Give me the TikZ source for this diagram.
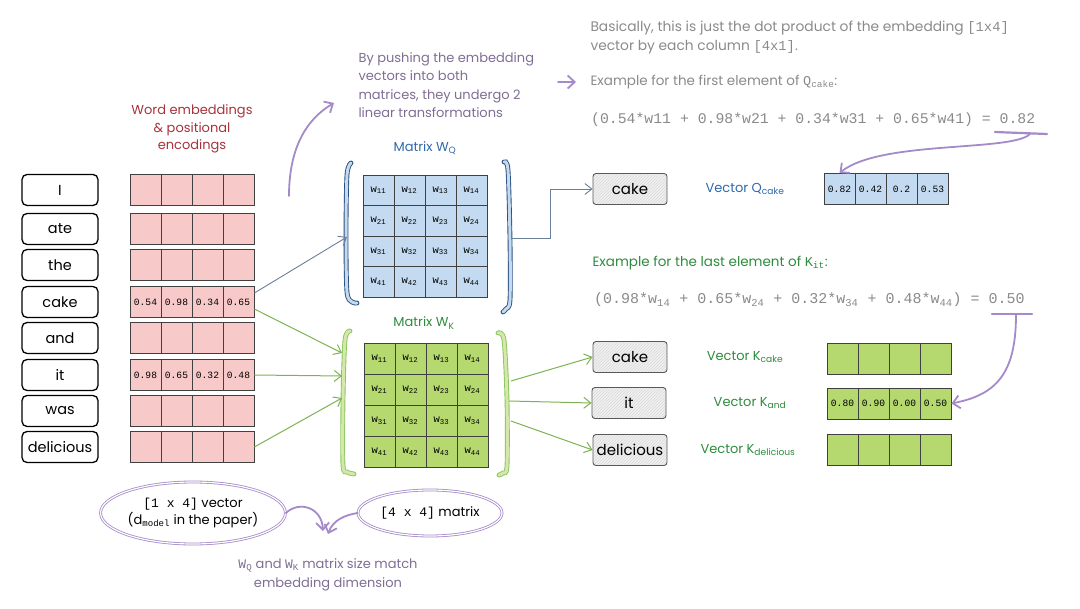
\documentclass[tikz,border=0pt]{standalone}
\usepackage{fontspec}
\setmainfont{Poppins}
\setmonofont{Liberation Mono}
\usetikzlibrary{arrows.meta,patterns,calc,shapes.geometric}
\definecolor{pinkF}{HTML}{F8C9C9}
\definecolor{blueF}{HTML}{C3DAF0}
\definecolor{greenF}{HTML}{B5D86F}
\definecolor{redT}{HTML}{A8323A}
\definecolor{blueT}{HTML}{2F68AA}
\definecolor{greenT}{HTML}{2E8B3E}
\definecolor{grayT}{HTML}{8A8A8A}
\definecolor{purpT}{HTML}{7F6D95}
\definecolor{purpA}{HTML}{A58AC9}
\definecolor{blueL}{HTML}{6B7F99}
\definecolor{greenL}{HTML}{7DB352}
\definecolor{blueBr}{HTML}{2B4F7E}
\definecolor{greenBr}{HTML}{8CC460}
\newcommand\handf{\fontsize{13}{16}\selectfont}
\newcommand\vrow[5]{\foreach \v [count=\k] in {#5}{\node[#4] (#1-\k) at ({#2+15.5+31*(\k-1)},#3) {\v};}}
\newcommand\wl[2]{\texttt{\fontsize{10.5}{12}\selectfont w\textsubscript{#1#2}}}
\begin{document}
\begin{tikzpicture}[x=1pt,y=-1pt,
  every node/.style={font=\handf},
  wordbox/.style={draw=black, line width=1.3pt, rounded corners=5pt, fill=white, minimum width=76pt, minimum height=31pt, inner sep=0pt, font=\fontsize{14.5}{18}\selectfont},
  outbox/.style={draw=black!65, line width=0.9pt, rounded corners=3pt, preaction={fill=black!6}, pattern=north east lines, pattern color=black!15, minimum width=74pt, minimum height=31pt, inner sep=0pt, font=\fontsize{15}{18}\selectfont},
  cellbase/.style={draw=black!75, line width=0.8pt, minimum width=31pt, minimum height=31pt, inner sep=0pt, font=\ttfamily\fontsize{9.6}{11}\selectfont},
  pinkcell/.style={cellbase, fill=pinkF},
  bluecell/.style={cellbase, fill=blueF},
  greencell/.style={cellbase, fill=greenF},
  blueBracket/.style={draw=blueBr, double=blueF, double distance=3pt, line width=0.9pt, line cap=round},
  greenBracket/.style={draw=greenBr, double=greenF!60, double distance=3pt, line width=0.9pt, line cap=round},
  bconn/.style={draw=blueL, line width=0.9pt, -{Straight Barb[length=7pt,width=11pt]}},
  gconn/.style={draw=greenL, line width=1pt, -{Straight Barb[length=7pt,width=11pt]}},
  pa/.style={draw=purpA, line width=1.8pt, line cap=round, -{Straight Barb[length=7pt,width=13pt]}},
  pline/.style={draw=purpA, line width=2.2pt, line cap=round},
  oval/.style={ellipse, draw=purpA, double=white, double distance=1.2pt, line width=0.8pt, inner sep=0pt}
]
\useasboundingbox (0,0) rectangle (1080,609);

% ---------- words ----------
\foreach \w/\y [count=\i] in {I/190, ate/229, the/265, cake/302, and/338, it/375, was/411, delicious/447}
  \node[wordbox] (w\i) at (60,\y) {\w};

% ---------- embeddings ----------
\node[text=redT, align=center, font=\fontsize{13}{17.5}\selectfont] (embT) at (192,129) {Word embeddings\\\& positional\\encodings};
\vrow{e1}{130}{190}{pinkcell}{{},{},{},{}}
\vrow{e2}{130}{229}{pinkcell}{{},{},{},{}}
\vrow{e3}{130}{265}{pinkcell}{{},{},{},{}}
\vrow{e4}{130}{302}{pinkcell}{0.54,0.98,0.34,0.65}
\vrow{e5}{130}{338}{pinkcell}{{},{},{},{}}
\vrow{e6}{130}{375}{pinkcell}{0.98,0.65,0.32,0.48}
\vrow{e7}{130}{411}{pinkcell}{{},{},{},{}}
\vrow{e8}{130}{447}{pinkcell}{{},{},{},{}}

% ---------- matrix WQ ----------
\node[text=blueT] (mqT) at (425,148) {Matrix W\textsubscript{Q}};
\foreach \r in {1,...,4}
  \foreach \c in {1,...,4}
    \node[bluecell, minimum height=30.5pt] (q\r\c) at ({363+15.5+31*(\c-1)},{175+15.25+30.5*(\r-1)}) {\wl{\r}{\c}};
\draw[blueBracket] plot[smooth] coordinates {(351,163) (347,175) (346,237) (347,292) (352,302) (357,303)};
\draw[blueBracket] plot[smooth] coordinates {(504,162) (508,170) (510,240) (510,300) (506,309) (503,312)};

% ---------- matrix WK ----------
\node[text=greenT] (mkT) at (424,323) {Matrix W\textsubscript{K}};
\foreach \r in {1,...,4}
  \foreach \c in {1,...,4}
    \node[greencell] (k\r\c) at ({364+15.5+31*(\c-1)},{343+15.5+31*(\r-1)}) {\wl{\r}{\c}};
\draw[greenBracket] plot[smooth] coordinates {(350,331) (345,340) (343,400) (343,465) (347,472) (354,474)};
\draw[greenBracket] plot[smooth] coordinates {(498,333) (504,340) (507,400) (507,466) (503,473) (499,475)};

% ---------- connectors into matrices ----------
\coordinate (qIn) at (347,237);
\coordinate (kIn1) at (342,353);
\coordinate (kIn2) at (342,376);
\coordinate (kIn3) at (342,398);
\draw[bconn] ($(e4-4.east)+(0,-9)$) -- (qIn);
\draw[gconn] ($(e4-4.east)+(0,7)$) -- (kIn1);
\draw[gconn] (e6-4.east) -- (kIn2);
\draw[gconn] (e8-4.east) -- (kIn3);

% ---------- Q output ----------
\node[outbox] (qcake) at (630,189) {cake};
\node[text=blueT] (qvT) at (745,189) {Vector Q\textsubscript{cake}};
\vrow{qv}{824}{189}{bluecell}{0.82,0.42,0.2,0.53}
\coordinate (qOut) at (512,238);
\draw[bconn] (qOut) -- (550,238) |- (qcake.west);

% ---------- K outputs ----------
\node[outbox] (kcake) at (630,357) {cake};
\node[outbox] (kit) at (629,403) {it};
\node[outbox] (kdel) at (630,450) {delicious};
\node[text=greenT] (kcT) at (745,357) {Vector K\textsubscript{cake}};
\node[text=greenT] (kiT) at (750,403) {Vector K\textsubscript{and}};
\node[text=greenT] (kdT) at (748,450) {Vector K\textsubscript{delicious}};
\vrow{kc}{827}{358.5}{greencell}{{},{},{},{}}
\vrow{ki}{827}{403.5}{greencell}{0.80,0.90,0.00,0.50}
\vrow{kd}{827}{449.5}{greencell}{{},{},{},{}}
\coordinate (kOut1) at (511,381);
\coordinate (kOut2) at (509,401);
\coordinate (kOut3) at (511,421);
\draw[gconn] (kOut1) -- (kcake.west);
\draw[gconn] (kOut2) -- (kit.west);
\draw[gconn] (kOut3) -- (kdel.west);

% ---------- top explanatory text ----------
\node[text=purpT, anchor=north west, align=left, font=\fontsize{13}{18.5}\selectfont] (push) at (355,49)
  {By pushing the embedding\\vectors into both\\matrices, they undergo 2\\linear transformations};
\node[text=grayT, anchor=west, font=\fontsize{13.8}{16}\selectfont] (basic1) at (587,28) {Basically, this is just the dot product of the embedding \texttt{[1x4]}};
\node[text=grayT, anchor=west, font=\fontsize{13.8}{16}\selectfont] (basic2) at (587,47) {vector by each column \texttt{[4x1]}.};
\node[text=grayT, anchor=west, font=\fontsize{13.5}{16}\selectfont] (exQ) at (587,82) {Example for the first element of \texttt{Q}\textsubscript{\texttt{cake}}:};
\node[text=grayT, anchor=west, font=\ttfamily\fontsize{14.8}{17}\selectfont, inner sep=0pt] (eqQ) at (591,120)
  {(0.54*w11 + 0.98*w21 + 0.34*w31 + 0.65*w41) = 0.82};
\node[text=greenT, anchor=west, font=\fontsize{13.5}{16}\selectfont] (exK) at (589,263) {Example for the last element of \texttt{K}\textsubscript{\texttt{it}}:};
\node[text=grayT, anchor=west, font=\ttfamily\fontsize{15}{17}\selectfont, inner sep=0pt] (eqK) at (594,300)
  {(0.98*w\textsubscript{14} + 0.65*w\textsubscript{24} + 0.32*w\textsubscript{34} + 0.48*w\textsubscript{44}) = 0.50};

% purple arrows
\coordinate (pr1) at (558,82);
\coordinate (pr2) at (576,82);
\draw[pa] (pr1) -- (pr2);
\coordinate (cu1) at (289,196);
\coordinate (cu2) at (334,103);
\draw[pa] (cu1) .. controls (289,150) and (305,120) .. (cu2);
\coordinate (u1a) at (995,132);
\coordinate (u1b) at (1047,134);
\draw[pline] (u1a) -- (u1b);
\draw[pa] (1030,134) .. controls (1012,152) and (880,140) .. (qv-1.north);
\coordinate (u2a) at (992,314);
\coordinate (u2b) at (1032,314);
\draw[pline] (u2a) -- (u2b);
\draw[pa] (1016,315) .. controls (1016,375) and (995,395) .. (ki-4.east);

% ---------- bottom ovals ----------
\node[oval, minimum width=184pt, minimum height=62pt, align=center, font=\fontsize{13}{17}\selectfont] (ov1) at (193,513)
  {\texttt{[1 x 4]} vector\\(d\textsubscript{\texttt{model}} in the paper)};
\node[oval, minimum width=144pt, minimum height=46pt] (ov2) at (430,513) {\texttt{[4 x 4]} matrix};
\coordinate (tgt1) at (323,531);
\coordinate (tgt2) at (328,534);
\draw[pa] (ov1.east) .. controls (300,500) and (322,508) .. (tgt1);
\draw[pa] (ov2.west) .. controls (345,515) and (333,520) .. (tgt2);
\node[text=purpT, align=center, font=\fontsize{13}{19}\selectfont] (match) at (328,575)
  {\texttt{W}\textsubscript{\texttt{Q}} and \texttt{W}\textsubscript{\texttt{K}} matrix size match\\embedding dimension};
\end{tikzpicture}
\end{document}
